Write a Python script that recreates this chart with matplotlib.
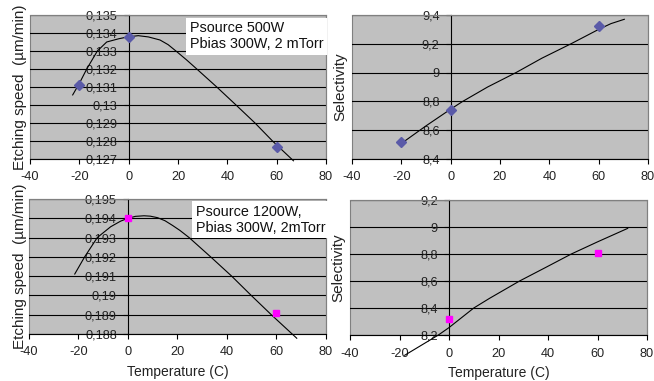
import matplotlib
matplotlib.use("Agg")
import matplotlib.pyplot as plt
from matplotlib.ticker import FuncFormatter
import numpy as np

plt.rcParams["font.family"] = ["Liberation Sans", "DejaVu Sans"]

PLOT_BG = "#c0c0c0"
BORDER = "#808080"
DIAMOND = "#5a5aa8"
MAGENTA = "#ff00ff"

# ── data ─────────────────────────────────────────────────────────────────────
temp_ticks = [-40, -20, 0, 20, 40, 60, 80]

# top-left: etching speed, Psource 500W
es500_x = [-20, 0, 60]
es500_y = [0.1311, 0.1338, 0.12765]
es500_trend_x = [-22.7, -20, -17.0, -12.7, -8.9, -4, 0, 3.9, 8, 12.7, 16,
                 19.5, 23.5, 27.6, 35.7, 43.5, 51.2, 58.3, 66.8]
es500_trend_y = [0.13056, 0.1312, 0.1320, 0.1330, 0.1335, 0.13368, 0.13379,
                 0.13385, 0.13378, 0.13361, 0.13335, 0.13296, 0.1325, 0.1320,
                 0.1310, 0.1300, 0.1290, 0.1280, 0.1269]
es500_ticks = [0.127, 0.128, 0.129, 0.130, 0.131, 0.132, 0.133, 0.134, 0.135]

# top-right: selectivity, Psource 500W
sel500_x = [-20, 0, 60]
sel500_y = [8.52, 8.74, 9.32]
sel500_trend_x = [-20.3, -10, 0, 4.9, 15, 26.5, 37, 48.8, 60, 65, 70.4]
sel500_trend_y = [8.504, 8.63, 8.746, 8.8, 8.90, 9.0, 9.1, 9.2, 9.30, 9.34, 9.37]
sel500_ticks = [8.4, 8.6, 8.8, 9.0, 9.2, 9.4]

# bottom-left: etching speed, Psource 1200W
es1200_x = [0, 60]
es1200_y = [0.19399, 0.18907]
es1200_trend_x = [-21.5, -17.5, -12.4, -7, -3, 0, 3, 6.5, 9, 12, 15, 18, 21,
                  24.7, 33.4, 41.9, 49.8, 57.9, 68.2]
es1200_trend_y = [0.19111, 0.1920, 0.1930, 0.19356, 0.19385, 0.1940, 0.19410,
                  0.19413, 0.19411, 0.19403, 0.19387, 0.19363, 0.19337,
                  0.1930, 0.1920, 0.1910, 0.1900, 0.1890, 0.18778]
es1200_ticks = [0.188, 0.189, 0.190, 0.191, 0.192, 0.193, 0.194, 0.195]

# bottom-right: selectivity, Psource 1200W
sel1200_x = [0, 60]
sel1200_y = [8.32, 8.81]
sel1200_trend_x = [-17.9, -4.3, 0, 10, 16.4, 28.5, 39, 49.4, 60, 72.2]
sel1200_trend_y = [8.05, 8.20, 8.255, 8.40, 8.472, 8.60, 8.70, 8.80, 8.89, 8.99]
sel1200_ticks = [8.2, 8.4, 8.6, 8.8, 9.0, 9.2]

ES_LABEL = "Etching speed  (µm/min)"
SEL_LABEL = "Selectivity"
T_LABEL = "Temperature (C)"


def comma_fmt(v, pos):
    return f"{round(v, 6):g}".replace(".", ",")


def _excel_style(ax, yticks, ylabel, label_x):
    ax.set_facecolor(PLOT_BG)
    ax.patch.set_edgecolor(BORDER)
    ax.patch.set_linewidth(0.8)
    ax.set_xlim(temp_ticks[0], temp_ticks[-1])
    ax.set_ylim(yticks[0], yticks[-1])
    ax.set_xticks(temp_ticks)
    ax.set_yticks(yticks)
    ax.xaxis.set_major_formatter(FuncFormatter(comma_fmt))
    ax.yaxis.set_major_formatter(FuncFormatter(comma_fmt))
    ax.spines["left"].set_position(("data", 0))
    ax.spines["left"].set_color("black")
    ax.spines["bottom"].set_color("black")
    for s in ["top", "right"]:
        ax.spines[s].set_color(BORDER)
    for s in ax.spines.values():
        s.set_linewidth(0.8)
    ax.tick_params(direction="out", length=3.5, width=0.8, labelsize=9.2,
                   colors="black", labelcolor="#222222")
    ax.tick_params(axis="y", pad=4.5)
    ax.tick_params(axis="x", pad=5.5)
    ax.grid(axis="y", color="black", linewidth=0.8)
    ax.grid(axis="x", visible=False)
    ax.set_ylabel(ylabel, fontsize=11, color="#222222")
    ax.yaxis.set_label_coords(label_x, 0.5)


def _box(ax, text, x, y):
    ax.text(x, y, text, transform=ax.transAxes, ha="left", va="top",
            fontsize=10.4, linespacing=1.15, color="#111111", zorder=4,
            bbox=dict(facecolor="white", edgecolor="none",
                      boxstyle="square,pad=0.25"))


fig = plt.figure(figsize=(6.54, 3.81), dpi=100, facecolor="white")

ax_tl = fig.add_axes([0.0459, 0.5827, 0.4526, 0.378])
ax_tr = fig.add_axes([0.5382, 0.5827, 0.4526, 0.378])
ax_bl = fig.add_axes([0.0443, 0.1234, 0.4541, 0.3543])
ax_br = fig.add_axes([0.5352, 0.1207, 0.4541, 0.3543])

# top-left
_excel_style(ax_tl, es500_ticks, ES_LABEL, -0.01)
ax_tl.plot(es500_trend_x, es500_trend_y, color="black", linewidth=0.8,
           clip_on=False, zorder=3)
ax_tl.plot(es500_x, es500_y, "D", color=DIAMOND, markersize=5.5, zorder=5,
           clip_on=False)
_box(ax_tl, "Psource 500W\nPbias 300W, 2 mTorr", 0.54, 0.955)

# top-right
_excel_style(ax_tr, sel500_ticks, SEL_LABEL, -0.017)
ax_tr.plot(sel500_trend_x, sel500_trend_y, color="black", linewidth=0.8,
           clip_on=False, zorder=3)
ax_tr.plot(sel500_x, sel500_y, "D", color=DIAMOND, markersize=5.5, zorder=5,
           clip_on=False)

# bottom-left
_excel_style(ax_bl, es1200_ticks, ES_LABEL, -0.007)
ax_bl.plot(es1200_trend_x, es1200_trend_y, color="black", linewidth=0.8,
           clip_on=False, zorder=3)
ax_bl.plot(es1200_x, es1200_y, "s", color=MAGENTA, markersize=4, zorder=5,
           clip_on=False)
_box(ax_bl, "Psource 1200W,\nPbias 300W, 2mTorr", 0.562, 0.955)
ax_bl.set_xlabel(T_LABEL, fontsize=10, color="#222222", labelpad=5)

# bottom-right
_excel_style(ax_br, sel1200_ticks, SEL_LABEL, -0.017)
ax_br.plot(sel1200_trend_x, sel1200_trend_y, color="black", linewidth=0.8,
           clip_on=False, zorder=3)
ax_br.plot(sel1200_x, sel1200_y, "s", color=MAGENTA, markersize=4, zorder=5,
           clip_on=False)
ax_br.set_xlabel(T_LABEL, fontsize=10, color="#222222", labelpad=5)

fig.savefig("out.png", dpi=100, facecolor="white")
plt.close(fig)
